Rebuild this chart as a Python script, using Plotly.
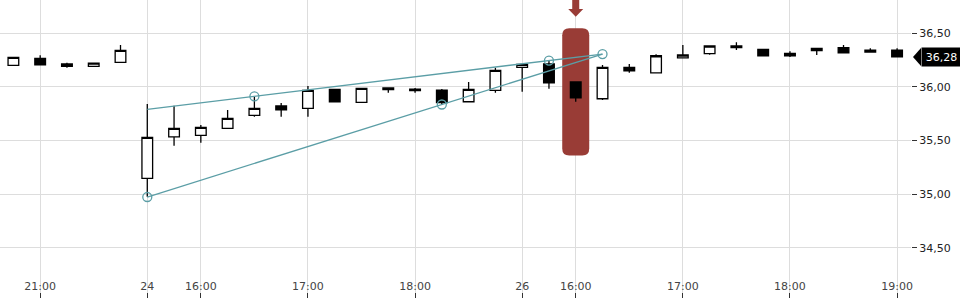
import plotly.graph_objects as go

# ---- data ----
days = ["23"] * 5 + ["24"] * 14 + ["26"] * 15
times = ["20:45", "21:00", "21:15", "21:30", "21:45",
         "15:30", "15:45", "16:00", "16:15", "16:30", "16:45", "17:00",
         "17:15", "17:30", "17:45", "18:00", "18:15", "18:30", "18:45",
         "15:30", "15:45", "16:00", "16:15", "16:30", "16:45", "17:00",
         "17:15", "17:30", "17:45", "18:00", "18:15", "18:30", "18:45", "19:00"]
categories = [f"{d} {t}" for d, t in zip(days, times)]

open_ = [36.201, 36.267, 36.214, 36.192, 36.229, 35.147, 35.535, 35.549, 35.614, 35.735,
         35.822, 35.800, 35.978, 35.856, 35.990, 35.980, 35.971, 35.862, 35.968, 36.183,
         36.214, 36.046, 35.890, 36.183, 36.132, 36.272, 36.310, 36.382, 36.351, 36.313,
         36.338, 36.366, 36.344, 36.344]
high = [36.276, 36.295, 36.226, 36.223, 36.391, 35.840, 35.825, 35.645, 35.784, 35.909,
        35.850, 36.008, 35.978, 35.987, 35.990, 35.990, 35.980, 36.046, 36.179, 36.211,
        36.251, 36.046, 36.204, 36.214, 36.304, 36.391, 36.388, 36.416, 36.351, 36.332,
        36.360, 36.391, 36.360, 36.360]
low = [36.201, 36.207, 36.179, 36.192, 36.229, 34.976, 35.451, 35.480, 35.614, 35.722,
       35.722, 35.722, 35.862, 35.856, 35.946, 35.946, 35.831, 35.862, 35.946, 35.955,
       35.983, 35.862, 35.878, 36.132, 36.132, 36.267, 36.300, 36.344, 36.291, 36.279,
       36.298, 36.319, 36.326, 36.280]
close = [36.276, 36.207, 36.192, 36.223, 36.341, 35.530, 35.614, 35.623, 35.707, 35.800,
         35.787, 35.968, 35.862, 35.987, 35.974, 35.965, 35.853, 35.978, 36.155, 36.211,
         36.039, 35.899, 36.183, 36.151, 36.291, 36.298, 36.382, 36.366, 36.291, 36.291,
         36.360, 36.319, 36.326, 36.280]

tick_idx = [1, 5, 7, 11, 15, 19, 21, 25, 29, 33]
tick_text = ["21:00", "24", "16:00", "17:00", "18:00", "26", "16:00", "17:00", "18:00", "19:00"]
y_ticks = [34.5, 35.0, 35.5, 36.0, 36.5]

# trend lines (category index, value)
upper_idx = [5, 9, 20, 22]
upper_val = [35.791, 35.912, 36.246, 36.307]
lower_idx = [5, 16, 22]
lower_val = [34.973, 35.836, 36.307]
pivot_idx = [9, 20, 22, 5, 16]
pivot_val = [35.912, 36.246, 36.307, 34.973, 35.836]

highlight_idx = 21

TEAL = "#5b9ea6"
RED = "#993c36"
TXT = "#222222"

fig = go.Figure()
fig.add_trace(go.Candlestick(
    x=categories, open=open_, high=high, low=low, close=close,
    increasing=dict(fillcolor="#ffffff", line=dict(color="#000000", width=1.3)),
    decreasing=dict(fillcolor="#000000", line=dict(color="#000000", width=1.3)),
    whiskerwidth=0, hoverinfo="skip", showlegend=False,
))
fig.add_trace(go.Scatter(
    x=[categories[i] for i in upper_idx], y=upper_val, mode="lines",
    line=dict(color=TEAL, width=1.3), hoverinfo="skip", showlegend=False))
fig.add_trace(go.Scatter(
    x=[categories[i] for i in lower_idx], y=lower_val, mode="lines",
    line=dict(color=TEAL, width=1.3), hoverinfo="skip", showlegend=False))
fig.add_trace(go.Scatter(
    x=[categories[i] for i in pivot_idx], y=pivot_val, mode="markers",
    marker=dict(symbol="circle-open", size=9, color=TEAL, line=dict(width=1.3)),
    hoverinfo="skip", showlegend=False))

# highlight rounded rectangle around candle
hc = categories[highlight_idx]
hmid = (high[highlight_idx] + low[highlight_idx]) / 2
hw, hh, r = 13.5, 63.7, 7
rect_path = (f"M {-hw},{hh - r} Q {-hw},{hh} {-hw + r},{hh} L {hw - r},{hh} Q {hw},{hh} {hw},{hh - r} "
             f"L {hw},{-hh + r} Q {hw},{-hh} {hw - r},{-hh} L {-hw + r},{-hh} Q {-hw},{-hh} {-hw},{-hh + r} Z")
fig.add_shape(type="path", xref="x", yref="y", xsizemode="pixel", ysizemode="pixel",
              xanchor=hc, yanchor=hmid, path=rect_path,
              fillcolor=RED, line=dict(width=0), layer="between")
# down arrow at top
arrow_path = "M -3.5,0 L 3.5,0 L 3.5,-9 L 7.5,-9 L 0,-16.7 L -7.5,-9 L -3.5,-9 Z"
fig.add_shape(type="path", xref="x", yref="paper", xsizemode="pixel", ysizemode="pixel",
              xanchor=hc, yanchor=1, path=arrow_path,
              fillcolor=RED, line=dict(width=0), layer="above")

# last price tag
last = close[-1]
fig.add_shape(type="path", xref="paper", yref="y", xsizemode="pixel", ysizemode="pixel",
              xanchor=1, yanchor=last, path="M 2,0 L 10,9 L 10,-9 Z",
              fillcolor="#000000", line=dict(width=0), layer="above")
fig.add_annotation(xref="paper", yref="y", x=1, y=last, xanchor="left", yanchor="middle",
                   xshift=10, text=f"{last:.2f}".replace(".", ","), showarrow=False,
                   bgcolor="#000000", font=dict(color="#ffffff", size=11, family="DejaVu Sans"),
                   width=39, height=18, borderpad=0, align="center")

fig.update_layout(
    width=960, height=300,
    margin=dict(l=0, r=49, t=0, b=2),
    paper_bgcolor="#ffffff", plot_bgcolor="#ffffff",
    font=dict(family="DejaVu Sans", size=11, color=TXT),
    separators=",.",
    boxgap=0.43,
    showlegend=False,
    hovermode=False,
    xaxis=dict(
        type="category", categoryorder="array", categoryarray=categories,
        range=[-0.5, 33.52], rangeslider=dict(visible=False),
        tickmode="array", tickvals=[categories[i] for i in tick_idx], ticktext=tick_text,
        ticks="inside", ticklen=5, tickcolor="#333333",
        ticklabelposition="inside", ticklabeloverflow="allow",
        showgrid=True, gridcolor="#dddddd", gridwidth=1,
        showline=False, zeroline=False, fixedrange=True,
    ),
    yaxis=dict(
        side="right", range=[34.031, 36.811],
        tickmode="array", tickvals=y_ticks, tickformat=".2f",
        ticks="outside", ticklen=5, tickcolor="#333333",
        showgrid=True, gridcolor="#dddddd", gridwidth=1,
        showline=False, zeroline=False, fixedrange=True,
    ),
)

fig.write_html("out.html")
